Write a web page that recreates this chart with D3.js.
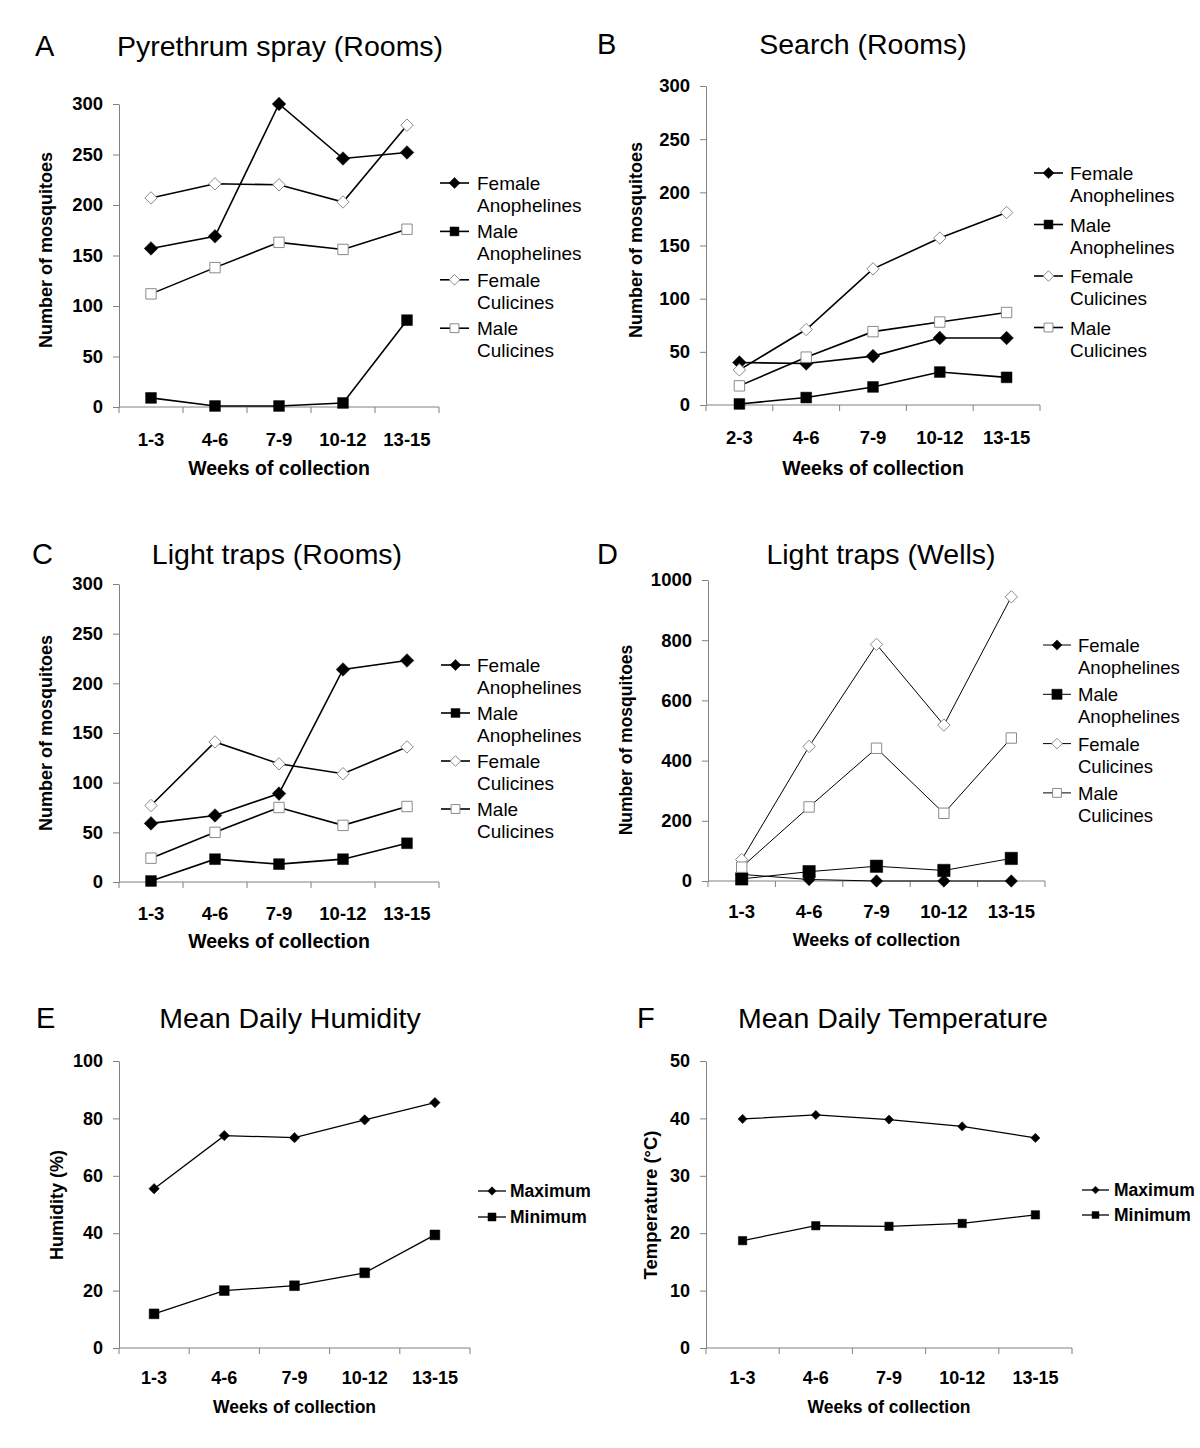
<!DOCTYPE html>
<html>
<head>
<meta charset="utf-8">
<script src="https://cdn.jsdelivr.net/npm/d3@7"></script>
<style>
  html, body { margin: 0; padding: 0; background: #fff; }
  svg { display: block; font-family: "Liberation Sans", Arial, sans-serif; }
</style>
</head>
<body>
<svg id="chart" width="1200" height="1448"></svg>
<script>
// ---------- DATA ----------
const weeks = ["1-3", "4-6", "7-9", "10-12", "13-15"];
const weeksSearch = ["2-3", "4-6", "7-9", "10-12", "13-15"];
const mosquitoSeries = ["Female Anophelines", "Male Anophelines", "Female Culicines", "Male Culicines"];
const climateSeries = ["Maximum", "Minimum"];

const countTicks300 = [0, 50, 100, 150, 200, 250, 300];
const countTicks1000 = [0, 200, 400, 600, 800, 1000];
const humidityTicks = [0, 20, 40, 60, 80, 100];
const temperatureTicks = [0, 10, 20, 30, 40, 50];

// A: Pyrethrum spray (Rooms)
const sprayFemaleAnoph = [157, 169, 300, 246, 252];
const sprayMaleAnoph = [9, 1, 1, 4, 86];
const sprayFemaleCul = [207, 221, 220, 203, 279];
const sprayMaleCul = [112, 138, 163, 156, 176];

// B: Search (Rooms)
const searchFemaleAnoph = [40, 39, 46, 63, 63];
const searchMaleAnoph = [1, 7, 17, 31, 26];
const searchFemaleCul = [33, 71, 128, 157, 181];
const searchMaleCul = [18, 45, 69, 78, 87];

// C: Light traps (Rooms)
const lightRoomFemaleAnoph = [59, 67, 89, 214, 223];
const lightRoomMaleAnoph = [1, 23, 18, 23, 39];
const lightRoomFemaleCul = [77, 141, 119, 109, 136];
const lightRoomMaleCul = [24, 50, 75, 57, 76];

// D: Light traps (Wells)
const lightWellFemaleAnoph = [22, 5, 0, 0, 0];
const lightWellMaleAnoph = [7, 31, 49, 35, 75];
const lightWellFemaleCul = [71, 447, 786, 518, 944];
const lightWellMaleCul = [46, 246, 441, 225, 475];

// E: Mean daily humidity
const humidityMax = [55.5, 74, 73.3, 79.5, 85.5];
const humidityMin = [11.9, 20, 21.7, 26.2, 39.4];

// F: Mean daily temperature
const temperatureMax = [39.9, 40.6, 39.8, 38.6, 36.6];
const temperatureMin = [18.7, 21.3, 21.2, 21.7, 23.2];

// ---------- STYLE ----------
const FONT = '"Liberation Sans", Arial, sans-serif';
const AXIS_COLOR = "#808080";
const OPEN_COLOR = "#8a8a8a";

const mosquitoMarkers = ["fdiamond", "fsquare", "odiamond", "osquare"];
const climateMarkers = ["fdiamond", "fsquare"];

// ---------- PANELS ----------
const panels = [
  {
    letter: "A", letterX: 35, title: "Pyrethrum spray (Rooms)", titleX: 280, titleY: 56,
    x0: 119, x1: 439, yTop: 104, yBot: 407, domain: [0, 300], ticks: countTicks300,
    cats: weeks, values: [sprayFemaleAnoph, sprayMaleAnoph, sprayFemaleCul, sprayMaleCul],
    names: mosquitoSeries, markers: mosquitoMarkers,
    yLabel: "Number of mosquitoes", yLabelX: 47, yLabelY: 250, tickFont: 18.5, xLabelFont: 19.5, yLabelFont: 18,
    xTickY: 446, xLabelY: 475,
    legend: { x: 440, y: 183, lineLen: 29, textX: 477, gap: 48.4, lh: 21.8, font: 19, bold: false, twoLine: true },
    lineW: 1.6, dR: 6.8, sR: 5.4, odR: 6.2, osR: 5.2
  },
  {
    letter: "B", letterX: 597, title: "Search (Rooms)", titleX: 863, titleY: 54,
    x0: 706, x1: 1040, yTop: 86, yBot: 405, domain: [0, 300], ticks: countTicks300,
    cats: weeksSearch, values: [searchFemaleAnoph, searchMaleAnoph, searchFemaleCul, searchMaleCul],
    names: mosquitoSeries, markers: mosquitoMarkers,
    yLabel: "Number of mosquitoes", yLabelX: 637, yLabelY: 240, tickFont: 18.5, xLabelFont: 19.5, yLabelFont: 18,
    xTickY: 444, xLabelY: 475,
    legend: { x: 1034, y: 173, lineLen: 29, textX: 1070, gap: 51.5, lh: 22, font: 19, bold: false, twoLine: true },
    lineW: 1.6, dR: 6.8, sR: 5.4, odR: 6.2, osR: 5.2
  },
  {
    letter: "C", letterX: 32, title: "Light traps (Rooms)", titleX: 277, titleY: 564,
    x0: 119, x1: 439, yTop: 584, yBot: 882, domain: [0, 300], ticks: countTicks300,
    cats: weeks, values: [lightRoomFemaleAnoph, lightRoomMaleAnoph, lightRoomFemaleCul, lightRoomMaleCul],
    names: mosquitoSeries, markers: mosquitoMarkers,
    yLabel: "Number of mosquitoes", yLabelX: 47, yLabelY: 733, tickFont: 18.5, xLabelFont: 19.5, yLabelFont: 18,
    xTickY: 920, xLabelY: 948,
    legend: { x: 441, y: 665, lineLen: 29, textX: 477, gap: 48, lh: 22, font: 19, bold: false, twoLine: true },
    lineW: 1.6, dR: 6.8, sR: 5.4, odR: 6.2, osR: 5.2
  },
  {
    letter: "D", letterX: 597, title: "Light traps (Wells)", titleX: 881, titleY: 564,
    x0: 708, x1: 1045, yTop: 580, yBot: 881, domain: [0, 1000], ticks: countTicks1000,
    cats: weeks, values: [lightWellFemaleAnoph, lightWellMaleAnoph, lightWellFemaleCul, lightWellMaleCul],
    names: mosquitoSeries, markers: mosquitoMarkers,
    yLabel: "Number of mosquitoes", yLabelX: 627, yLabelY: 740, tickFont: 18.5, xLabelFont: 18, yLabelFont: 17.5,
    xTickY: 918, xLabelY: 946,
    legend: { x: 1043, y: 645, lineLen: 28, textX: 1078, gap: 49.3, lh: 22, font: 18.5, bold: false, twoLine: true },
    lineW: 1.0, dR: 6.2, sR: 6.2, odR: 6.2, osR: 5.2
  },
  {
    letter: "E", letterX: 36, title: "Mean Daily Humidity", titleX: 290, titleY: 1028,
    x0: 119, x1: 470, yTop: 1061, yBot: 1348, domain: [0, 100], ticks: humidityTicks,
    cats: weeks, values: [humidityMax, humidityMin],
    names: climateSeries, markers: climateMarkers,
    yLabel: "Humidity (%)", yLabelX: 58, yLabelY: 1205, tickFont: 18, xLabelFont: 17.5, yLabelFont: 18,
    xTickY: 1384, xLabelY: 1413,
    legend: { x: 478, y: 1191, lineLen: 28, textX: 510, gap: 26, lh: 0, font: 17.5, bold: true, twoLine: false },
    lineW: 1.3, dR: 5.2, sR: 4.9, odR: 4.5, osR: 4
  },
  {
    letter: "F", letterX: 637, title: "Mean Daily Temperature", titleX: 893, titleY: 1028,
    x0: 706, x1: 1072, yTop: 1061, yBot: 1348, domain: [0, 50], ticks: temperatureTicks,
    cats: weeks, values: [temperatureMax, temperatureMin],
    names: climateSeries, markers: climateMarkers,
    yLabel: "Temperature (\u00B0C)", yLabelX: 652, yLabelY: 1205, tickFont: 18, xLabelFont: 17.5, yLabelFont: 18.5,
    xTickY: 1384, xLabelY: 1413,
    legend: { x: 1082, y: 1190, lineLen: 27, textX: 1114, gap: 25, lh: 0, font: 17.5, bold: true, twoLine: false },
    lineW: 1.3, dR: 4.6, sR: 4.2, odR: 4, osR: 3.5
  }
];

const svg = d3.select("#chart");

function markerPath(kind, r) {
  const p = d3.path();
  if (kind === "diamond") {
    p.moveTo(0, -r); p.lineTo(r, 0); p.lineTo(0, r); p.lineTo(-r, 0); p.closePath();
  } else {
    p.rect(-r, -r, 2 * r, 2 * r);
  }
  return p.toString();
}

function drawMarker(g, key, cx, cy, p) {
  const filled = key[0] === "f";
  const kind = key.slice(1);
  const r = kind === "diamond" ? (filled ? p.dR : p.odR) : (filled ? p.sR : p.osR);
  g.append("path")
    .attr("d", markerPath(kind, r))
    .attr("transform", `translate(${cx},${cy})`)
    .attr("fill", filled ? "#000" : "#fff")
    .attr("stroke", filled ? "#000" : OPEN_COLOR)
    .attr("stroke-width", filled ? 0.5 : 1);
}

panels.forEach(p => {
  const g = svg.append("g");

  // panel letter + title
  g.append("text").attr("x", p.letterX).attr("y", p.titleY)
    .attr("font-size", 29).attr("font-family", FONT).text(p.letter);
  g.append("text").attr("x", p.titleX).attr("y", p.titleY)
    .attr("font-size", 28.5).attr("font-family", FONT).attr("text-anchor", "middle").text(p.title);

  const x = d3.scaleBand().domain(p.cats).range([p.x0, p.x1]);
  const y = d3.scaleLinear().domain(p.domain).range([p.yBot, p.yTop]);
  const cx = c => x(c) + x.bandwidth() / 2;

  // y axis
  const yAxis = g.append("g").attr("transform", `translate(${p.x0},0)`)
    .call(d3.axisLeft(y).tickValues(p.ticks).tickSize(6).tickSizeOuter(0).tickPadding(10).tickFormat(d3.format("d")));
  yAxis.select(".domain").attr("stroke", AXIS_COLOR).attr("stroke-width", 1);
  yAxis.selectAll(".tick line").attr("stroke", AXIS_COLOR);
  yAxis.selectAll("text").attr("font-size", p.tickFont).attr("font-weight", "bold")
    .attr("font-family", FONT).attr("fill", "#000");

  // x axis line + boundary ticks + category labels
  const xg = g.append("g");
  xg.append("line").attr("x1", x.range()[0]).attr("x2", x.range()[1])
    .attr("y1", p.yBot).attr("y2", p.yBot).attr("stroke", AXIS_COLOR).attr("stroke-width", 1);
  d3.range(p.cats.length + 1).forEach(i => {
    const bx = x.range()[0] + i * x.step();
    xg.append("line").attr("x1", bx).attr("x2", bx).attr("y1", p.yBot).attr("y2", p.yBot + 6)
      .attr("stroke", AXIS_COLOR).attr("stroke-width", 1);
  });
  p.cats.forEach(c => {
    xg.append("text").attr("x", cx(c)).attr("y", p.xTickY)
      .attr("text-anchor", "middle").attr("font-size", p.tickFont).attr("font-weight", "bold")
      .attr("font-family", FONT).text(c);
  });

  // axis titles
  g.append("text").attr("x", (p.x0 + p.x1) / 2).attr("y", p.xLabelY)
    .attr("text-anchor", "middle").attr("font-size", p.xLabelFont).attr("font-weight", "bold")
    .attr("font-family", FONT).text("Weeks of collection");
  g.append("text")
    .attr("transform", `translate(${p.yLabelX},${p.yLabelY}) rotate(-90)`)
    .attr("text-anchor", "middle").attr("dominant-baseline", "middle")
    .attr("font-size", p.yLabelFont).attr("font-weight", "bold").attr("font-family", FONT)
    .text(p.yLabel);

  // series
  const line = d3.line().x((d, i) => cx(p.cats[i])).y(d => y(d));
  p.values.forEach((vals, si) => {
    g.append("path").datum(vals).attr("d", line)
      .attr("fill", "none").attr("stroke", "#000").attr("stroke-width", p.lineW);
    vals.forEach((v, i) => drawMarker(g, p.markers[si], cx(p.cats[i]), y(v), p));
  });

  // legend
  const L = p.legend;
  const lp = Object.assign({}, p, { dR: p.dR * 0.82, sR: p.sR * 0.82, odR: p.odR * 0.85, osR: p.osR * 0.85 });
  p.names.forEach((name, si) => {
    const ly = L.y + si * L.gap;
    g.append("line").attr("x1", L.x).attr("x2", L.x + L.lineLen).attr("y1", ly).attr("y2", ly)
      .attr("stroke", "#000").attr("stroke-width", p.lineW);
    drawMarker(g, p.markers[si], L.x + L.lineLen / 2, ly, lp);
    const t = g.append("text").attr("x", L.textX).attr("y", ly)
      .attr("dominant-baseline", "central").attr("font-size", L.font)
      .attr("font-weight", L.bold ? "bold" : "normal").attr("font-family", FONT);
    if (L.twoLine) {
      const parts = name.split(" ");
      t.append("tspan").attr("x", L.textX).attr("dy", 0).text(parts[0]);
      t.append("tspan").attr("x", L.textX).attr("dy", L.lh).text(parts[1]);
    } else {
      t.text(name);
    }
  });
});
</script>
</body>
</html>
